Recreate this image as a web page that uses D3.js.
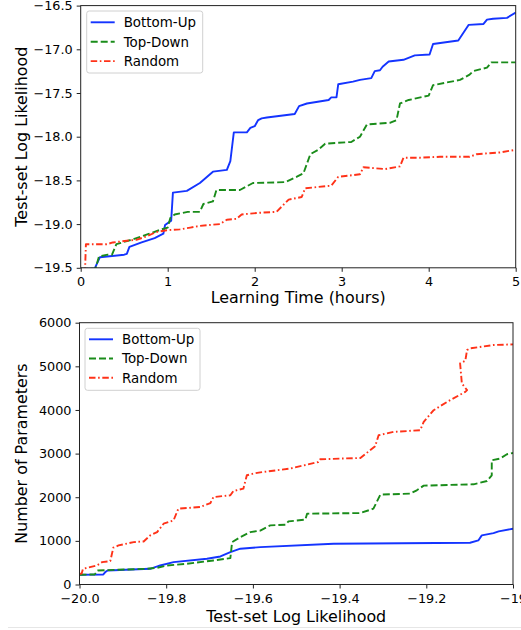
<!DOCTYPE html>
<html><head><meta charset="utf-8">
<script src="https://cdn.jsdelivr.net/npm/d3@7"></script>
<style>
html,body{margin:0;padding:0;background:#fff;}
text{font-family:"DejaVu Sans",sans-serif;fill:#000;}
</style></head><body>
<svg id="c" width="521" height="630"></svg>
<script>
// ---- Top chart data: learning time (hours) vs test-set log likelihood ----
const buTime = [0,0.16,0.22,0.50,0.53,0.56,0.70,0.85,0.95,0.97,1.04,1.06,1.22,1.37,1.52,1.68,1.72,1.76,1.91,1.95,2.00,2.04,2.08,2.14,2.46,2.51,2.60,2.85,2.88,2.94,2.96,3.13,3.21,3.34,3.38,3.44,3.47,3.54,3.71,3.84,4.01,4.05,4.34,4.46,4.63,4.67,4.74,4.90,5.00];
const buLL = [-19.51,-19.51,-19.38,-19.35,-19.34,-19.26,-19.21,-19.16,-19.11,-19.01,-18.96,-18.64,-18.62,-18.53,-18.40,-18.38,-18.28,-17.95,-17.95,-17.90,-17.88,-17.81,-17.79,-17.78,-17.74,-17.65,-17.62,-17.58,-17.55,-17.55,-17.40,-17.37,-17.35,-17.33,-17.25,-17.24,-17.20,-17.14,-17.12,-17.07,-17.06,-16.94,-16.90,-16.72,-16.71,-16.66,-16.65,-16.64,-16.58];
const tdTime = [0,0.17,0.21,0.31,0.36,0.41,0.58,0.79,0.93,1.00,1.03,1.08,1.23,1.37,1.41,1.52,1.56,1.83,1.98,2.35,2.48,2.56,2.64,2.73,2.81,3.11,3.21,3.29,3.56,3.63,3.67,3.77,4.00,4.05,4.36,4.47,4.51,4.67,4.72,5.00];
const tdLL = [-19.51,-19.51,-19.37,-19.35,-19.35,-19.23,-19.18,-19.11,-19.06,-19.04,-18.93,-18.89,-18.86,-18.86,-18.77,-18.74,-18.61,-18.61,-18.53,-18.52,-18.46,-18.42,-18.20,-18.15,-18.08,-18.06,-18.00,-17.86,-17.84,-17.81,-17.62,-17.58,-17.53,-17.41,-17.35,-17.29,-17.25,-17.21,-17.15,-17.15];
const rdTime = [0,0.05,0.06,0.30,0.37,0.53,0.64,0.76,0.87,0.99,1.14,1.26,1.37,1.60,1.68,1.79,1.85,2.06,2.25,2.39,2.54,2.58,2.88,2.96,3.21,3.25,3.50,3.67,3.71,3.90,4.13,4.47,4.55,4.82,5.00];
const rdLL = [-19.52,-19.52,-19.23,-19.23,-19.21,-19.19,-19.18,-19.14,-19.09,-19.07,-19.06,-19.04,-19.02,-19.00,-18.95,-18.94,-18.89,-18.87,-18.86,-18.72,-18.69,-18.59,-18.56,-18.46,-18.43,-18.35,-18.37,-18.34,-18.24,-18.24,-18.23,-18.23,-18.20,-18.18,-18.15];

// ---- Bottom chart data: test-set log likelihood vs number of parameters ----
const buLL2 = [-20.00,-19.945,-19.94,-19.935,-19.837,-19.822,-19.814,-19.783,-19.706,-19.675,-19.652,-19.629,-19.583,-19.414,-19.099,-19.08,-19.072,-19.045,-19.033,-19.00];
const buParams = [225,230,290,320,360,410,436,512,590,643,742,820,857,935,957,1010,1125,1178,1217,1279];
const tdLL2 = [-20.00,-19.965,-19.958,-19.845,-19.821,-19.798,-19.752,-19.691,-19.652,-19.648,-19.629,-19.606,-19.583,-19.56,-19.525,-19.518,-19.479,-19.475,-19.352,-19.322,-19.306,-19.237,-19.222,-19.206,-19.091,-19.06,-19.049,-19.049,-19.03,-19.014,-19.00];
const tdParams = [225,230,321,360,383,436,475,551,604,972,1086,1201,1235,1355,1370,1447,1486,1623,1637,1738,2060,2083,2158,2266,2296,2372,2503,2847,2886,2985,3015];
const rdLL2 = [-20.00,-19.995,-19.992,-19.96,-19.948,-19.929,-19.922,-19.91,-19.875,-19.852,-19.837,-19.821,-19.806,-19.783,-19.772,-19.722,-19.698,-19.691,-19.652,-19.645,-19.622,-19.614,-19.599,-19.583,-19.514,-19.449,-19.445,-19.352,-19.318,-19.31,-19.276,-19.214,-19.206,-19.183,-19.152,-19.11,-19.106,-19.118,-19.122,-19.11,-19.106,-19.099,-19.045,-19.00];
const rdParams = [245,250,360,436,512,536,843,896,972,987,1125,1201,1393,1470,1738,1775,1867,2004,2044,2142,2197,2503,2542,2570,2657,2808,2870,2900,3169,3421,3497,3536,3727,3995,4186,4415,4455,4608,5068,5128,5373,5412,5488,5504];

// ---- Labels / ticks ----
const seriesNames = ["Bottom-Up","Top-Down","Random"];
const topXTicks = [0,1,2,3,4,5];
const topYTicks = [-19.5,-19.0,-18.5,-18.0,-17.5,-17.0,-16.5];
const botXTicks = [-20.0,-19.8,-19.6,-19.4,-19.2,-19.0];
const botXTickLabels = ["−20.0","−19.8","−19.6","−19.4","−19.2","−19"];
const botYTicks = [0,1000,2000,3000,4000,5000,6000];

const colors = ["#1434ff","#1a8c1a","#ff3218"];
const dashes = [null,"7,3","6.5,2.6,1.6,2.6"];

const svg = d3.select("#c");
svg.append("rect").attr("width",521).attr("height",630).attr("fill","#fff");
svg.append("line").attr("x1",8).attr("x2",521).attr("y1",627.5).attr("y2",627.5).attr("stroke","#e6e6e6").attr("stroke-width",1);

const fmtMinus = v => String(v).replace("-","−");

function panel(cfg){
  const g = svg.append("g");
  const x = d3.scaleLinear().domain(cfg.xDomain).range(cfg.xRange);
  const y = d3.scaleLinear().domain(cfg.yDomain).range(cfg.yRange);
  const id = "clip"+cfg.id;
  g.append("clipPath").attr("id",id).append("rect")
    .attr("x",cfg.xRange[0]).attr("y",cfg.yRange[1])
    .attr("width",cfg.xRange[1]-cfg.xRange[0]).attr("height",cfg.yRange[0]-cfg.yRange[1]);
  const line = d3.line().x(d=>x(d[0])).y(d=>y(d[1]));
  cfg.series.forEach((s,i)=>{
    const pts = s[0].map((v,k)=>[v,s[1][k]]);
    g.append("path").attr("d",line(pts)).attr("fill","none")
      .attr("stroke",colors[i]).attr("stroke-width",1.9)
      .attr("stroke-dasharray",dashes[i]).attr("stroke-linejoin","round")
      .attr("clip-path","url(#"+id+")");
  });
  // axes
  const xa = g.append("g").attr("transform",`translate(0,${cfg.yRange[0]})`)
    .call(d3.axisBottom(x).tickValues(cfg.xTicks).tickFormat((d,i)=>cfg.xLabels[i]).tickSize(4).tickPadding(5).tickSizeOuter(0));
  const ya = g.append("g").attr("transform",`translate(${cfg.xRange[0]},0)`)
    .call(d3.axisLeft(y).tickValues(cfg.yTicks).tickFormat((d,i)=>cfg.yLabels[i]).tickSize(4).tickPadding(4).tickSizeOuter(0));
  [xa,ya].forEach(a=>{
    a.select(".domain").remove();
    a.selectAll("line").attr("stroke","#222");
    a.selectAll("text").attr("font-size",12.8).attr("font-family","DejaVu Sans").attr("fill","#000");
  });
  // frame
  g.append("rect").attr("x",cfg.xRange[0]).attr("y",cfg.yRange[1])
    .attr("width",cfg.xRange[1]-cfg.xRange[0]).attr("height",cfg.yRange[0]-cfg.yRange[1])
    .attr("fill","none").attr("stroke","#222").attr("stroke-width",1);
  // axis labels
  g.append("text").attr("x",(cfg.xRange[0]+cfg.xRange[1])/2).attr("y",cfg.xLabelY)
    .attr("text-anchor","middle").attr("font-size",15.9).text(cfg.xTitle);
  g.append("text").attr("transform",`translate(27,${(cfg.yRange[0]+cfg.yRange[1])/2}) rotate(-90)`)
    .attr("text-anchor","middle").attr("font-size",15.9).text(cfg.yTitle);
  // legend
  const L = cfg.legend;
  const lg = g.append("g");
  lg.append("rect").attr("x",L.x).attr("y",L.y).attr("width",L.w).attr("height",L.h)
    .attr("rx",2.5).attr("fill","#fff").attr("fill-opacity",0.85).attr("stroke","#d0d0d0").attr("stroke-width",1);
  seriesNames.forEach((n,i)=>{
    const yy = L.y + L.row0 + i*L.dy;
    lg.append("line").attr("x1",L.x+4).attr("x2",L.x+28).attr("y1",yy).attr("y2",yy)
      .attr("stroke",colors[i]).attr("stroke-width",1.9).attr("stroke-dasharray",dashes[i]);
    lg.append("text").attr("x",L.x+37).attr("y",yy).attr("dy","0.36em").attr("font-size",13.4).text(n);
  });
}

panel({
  id:"top",
  xDomain:[0,5], xRange:[80.7,515.7],
  yDomain:[-19.5,-16.5], yRange:[267.8,5.6],
  xTicks:topXTicks, xLabels:topXTicks.map(String),
  yTicks:topYTicks, yLabels:topYTicks.map(v=>fmtMinus(v.toFixed(1))),
  xTitle:"Learning Time (hours)", xLabelY:303,
  yTitle:"Test-set Log Likelihood",
  legend:{x:86.7,y:11,w:116,h:62,row0:11.3,dy:19.4},
  series:[[buTime,buLL],[tdTime,tdLL],[rdTime,rdLL]]
});

panel({
  id:"bot",
  xDomain:[-20,-19], xRange:[79.5,513],
  yDomain:[0,6000], yRange:[584.5,322.7],
  xTicks:botXTicks, xLabels:botXTickLabels,
  yTicks:botYTicks, yLabels:botYTicks.map(String),
  xTitle:"Test-set Log Likelihood", xLabelY:621.5,
  yTitle:"Number of Parameters",
  legend:{x:85,y:328.3,w:115,h:62,row0:11,dy:19.2},
  series:[[buLL2,buParams],[tdLL2,tdParams],[rdLL2,rdParams]]
});
</script>
</body></html>
